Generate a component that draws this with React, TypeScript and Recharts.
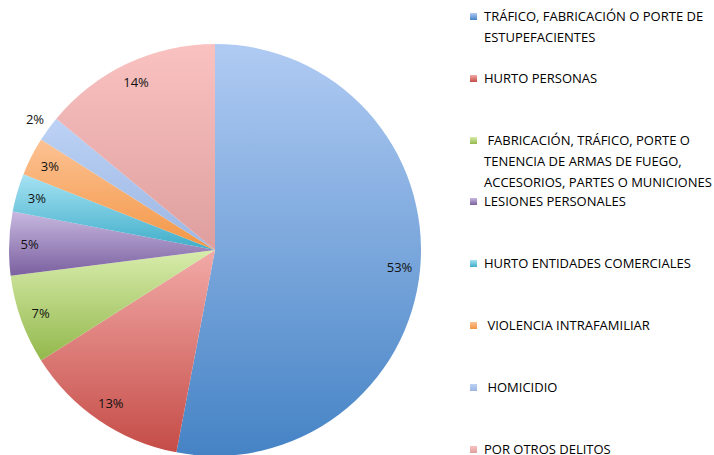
import { PieChart, Pie, Cell } from "recharts";

const categories = [
  "TRÁFICO, FABRICACIÓN O PORTE DE\nESTUPEFACIENTES",
  "HURTO PERSONAS",
  " FABRICACIÓN, TRÁFICO, PORTE O\nTENENCIA DE ARMAS DE FUEGO,\nACCESORIOS, PARTES O MUNICIONES",
  "LESIONES PERSONALES",
  "HURTO ENTIDADES COMERCIALES",
  " VIOLENCIA INTRAFAMILIAR",
  " HOMICIDIO",
  "POR OTROS DELITOS",
];

const values = [53, 13, 7, 5, 3, 3, 2, 14];

// [top, bottom] of each slice's gradient
const palette = [
  ["#b0cbf3", "#4583c5"],
  ["#f2aaa7", "#c54c47"],
  ["#d8ecac", "#93b84c"],
  ["#c8b8e0", "#7a609f"],
  ["#a6e2f3", "#3fadc9"],
  ["#fcc294", "#f39645"],
  ["#bcd2f5", "#9cb6e2"],
  ["#f9c2c1", "#de9f9e"],
];

const data = categories.map((name, i) => ({ name, value: values[i] }));

const FONT = "'Open Sans', sans-serif";
const RAD = Math.PI / 180;

function renderLabel(props: any) {
  const { cx, cy, midAngle, outerRadius, percent } = props;
  const r = percent < 0.025 ? outerRadius * 1.08 : outerRadius * 0.9;
  const x = cx + r * Math.cos(-midAngle * RAD);
  const y = cy + r * Math.sin(-midAngle * RAD);
  return (
    <text
      x={x}
      y={y}
      fill="#111"
      fontSize={13}
      fontFamily={FONT}
      textAnchor="middle"
      dominantBaseline="central"
    >
      {`${Math.round(percent * 100)}%`}
    </text>
  );
}

function LegendBox() {
  return (
    <div
      style={{
        position: "absolute",
        left: 470,
        top: 6,
        width: 244,
        fontFamily: FONT,
        fontSize: 13,
        lineHeight: "21px",
        color: "#000",
      }}
    >
      {categories.map((name, i) => (
        <div key={i} style={{ height: 61.8, display: "flex", alignItems: "flex-start" }}>
          <div
            style={{
              width: 7,
              height: 7,
              marginTop: 7,
              marginRight: 7,
              flexShrink: 0,
              background: `linear-gradient(${palette[i][0]}, ${palette[i][1]})`,
            }}
          />
          <div style={{ whiteSpace: "pre" }}>{name}</div>
        </div>
      ))}
    </div>
  );
}

export default function App() {
  return (
    <div
      style={{
        position: "absolute",
        left: 0,
        top: 0,
        width: 714,
        height: 455,
        background: "#fff",
        overflow: "hidden",
      }}
    >
      <PieChart width={714} height={455} margin={{ top: 0, right: 0, bottom: 0, left: 0 }}>
        <defs>
          {palette.map((c, i) => (
            <linearGradient key={i} id={`slice${i}`} x1="0" y1="0" x2="0" y2="1">
              <stop offset="0%" stopColor={c[0]} />
              <stop offset="100%" stopColor={c[1]} />
            </linearGradient>
          ))}
        </defs>
        <Pie
          data={data}
          dataKey="value"
          nameKey="name"
          cx={215}
          cy={250}
          outerRadius={206}
          startAngle={90}
          endAngle={-270}
          stroke="none"
          label={renderLabel}
          labelLine={false}
          isAnimationActive={false}
        >
          {data.map((_, i) => (
            <Cell key={i} fill={`url(#slice${i})`} />
          ))}
        </Pie>
      </PieChart>
      <LegendBox />
    </div>
  );
}
